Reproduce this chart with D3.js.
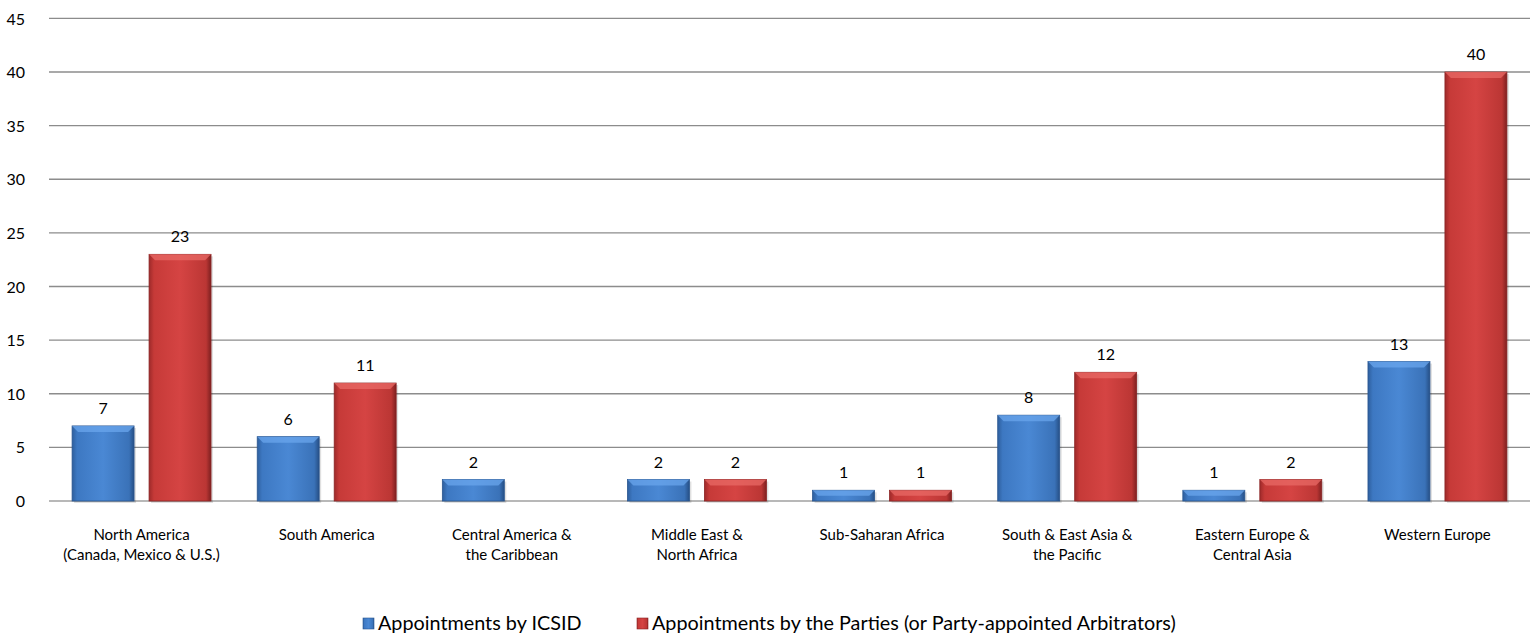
<!DOCTYPE html>
<html><head><meta charset="utf-8">
<script src="https://cdn.jsdelivr.net/npm/d3@7"></script>
<style>body{margin:0;background:#fff}svg{display:block}text{font-family:Lato,"Open Sans",sans-serif;fill:#000}</style>
</head><body><svg id="c" width="1535" height="635"></svg>
<script>
const categories = [["North America","(Canada, Mexico & U.S.)"],["South America"],["Central America &","the Caribbean"],["Middle East &","North Africa"],["Sub-Saharan Africa"],["South & East Asia &","the Pacific"],["Eastern Europe &","Central Asia"],["Western Europe"]];
const icsid = [7,6,2,2,1,8,1,13];
const parties = [23,11,null,2,1,12,2,40];
const seriesNames = ["Appointments by ICSID","Appointments by the Parties (or Party-appointed Arbitrators)"];
const yTicks = [0,5,10,15,20,25,30,35,40,45];

(function(){
const svg = d3.select("#c");
const pl = 49, pr = 1530, pt = 18.4, pb = 501;
const x0 = d3.scaleBand().domain(d3.range(categories.length)).range([pl,pr]).paddingInner(0).paddingOuter(0);
const x1 = d3.scaleBand().domain([0,1]).range([0,x0.bandwidth()]).paddingInner(0.195).paddingOuter(0.3);
const y = d3.scaleLinear().domain([0,45]).range([pb,pt]);

const defs = svg.append("defs");
function grad(id, stops){
  const g = defs.append("linearGradient").attr("id",id).attr("x1","0").attr("x2","1").attr("y1","0").attr("y2","0");
  stops.forEach(s=>g.append("stop").attr("offset",s[0]).attr("stop-color",s[1]));
}
grad("gb",[[0,"#2e5f9e"],[0.08,"#3d78c2"],[0.5,"#4a88d4"],[0.92,"#3a72b8"],[1,"#264f85"]]);
grad("gr",[[0,"#9e2a2a"],[0.08,"#c63a38"],[0.5,"#d54443"],[0.92,"#bb3634"],[1,"#7e2020"]]);
const colors = [{fill:"url(#gb)",top:"#6aa6ec",edge:"#2a5690"},{fill:"url(#gr)",top:"#e86a66",edge:"#8a2424"}];

svg.append("g").selectAll("line").data(yTicks).join("line")
  .attr("x1",pl).attr("x2",pr).attr("y1",d=>y(d)).attr("y2",d=>y(d))
  .attr("stroke",d=>d===0?"#a0a0a0":"#8c8c8c").attr("stroke-width",1.3);
const yAxis = d3.axisLeft(y).tickValues(yTicks).tickSize(0).tickPadding(0);
const ya = svg.append("g").attr("transform","translate(25,0)").call(yAxis);
ya.select(".domain").remove();
ya.selectAll("text").style("font-size","16px").style("font-family","Lato").attr("dy","0.35em").attr("fill","#000");

const series = [icsid, parties];
series.forEach((vals,si)=>{
  const g = svg.append("g");
  const data = vals.map((v,i)=>({v,i})).filter(d=>d.v!==null);
  const bx = d=>x0(d.i)+x1(si), bw = x1.bandwidth();
  g.selectAll("rect.sh").data(data).join("rect").attr("class","sh")
    .attr("x",d=>bx(d)+2).attr("y",d=>y(d.v)+2).attr("width",bw).attr("height",d=>y(0)-y(d.v))
    .attr("fill","#000").attr("opacity",0.12);
  g.selectAll("rect.b").data(data).join("rect").attr("class","b")
    .attr("x",bx).attr("y",d=>y(d.v)).attr("width",bw).attr("height",d=>y(0)-y(d.v))
    .attr("fill",colors[si].fill).attr("stroke",colors[si].edge).attr("stroke-width",0.8);
  g.selectAll("path.bv").data(data).join("path").attr("class","bv")
    .attr("d",d=>{const X=bx(d),Y=y(d.v),H=y(0)-y(d.v),b=Math.min(6,H/2);
      return `M${X},${Y}L${X+bw},${Y}L${X+bw-b},${Y+b}L${X+b},${Y+b}Z`;})
    .attr("fill",colors[si].top).attr("opacity",0.75);
  g.selectAll("text.v").data(data).join("text").attr("class","v")
    .attr("x",d=>bx(d)+bw/2).attr("y",d=>y(d.v)-12).attr("text-anchor","middle")
    .style("font-size","16px").text(d=>d.v);
});

const cl = svg.append("g");
categories.forEach((lines,i)=>{
  const cx = x0(i)+x0.bandwidth()/2;
  const t = cl.append("text").attr("x",cx).attr("y",540).attr("text-anchor","middle").style("font-size","15px");
  lines.forEach((l,k)=>t.append("tspan").attr("x",cx).attr("dy",k===0?0:20).text(l));
});

const leg = svg.append("g");
const lx = [363, 637];
seriesNames.forEach((n,i)=>{
  leg.append("rect").attr("x",lx[i]).attr("y",618).attr("width",11).attr("height",11)
    .attr("fill",colors[i].fill).attr("stroke",colors[i].edge).attr("stroke-width",0.6);
  leg.append("text").attr("x",lx[i]+15).attr("y",630).style("font-size","19.8px").text(n);
});
})();
</script></body></html>
